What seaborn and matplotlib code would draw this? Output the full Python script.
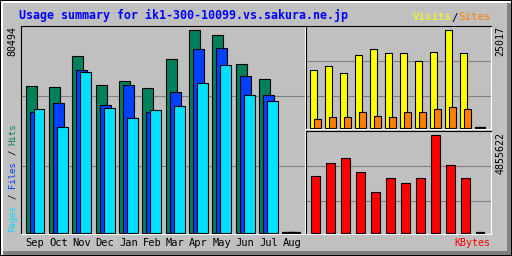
import numpy as np
import matplotlib
matplotlib.use('Agg')
import matplotlib.pyplot as plt
import seaborn as sns
from matplotlib.patches import Rectangle

# ---------------- data ----------------
months = ['Sep', 'Oct', 'Nov', 'Dec', 'Jan', 'Feb', 'Mar', 'Apr', 'May', 'Jun', 'Jul', 'Aug']
hits = [58288, 57891, 70183, 58684, 60270, 57494, 68993, 80494, 78115, 67010, 61063, 0]
files = [47977, 51546, 64632, 50753, 58684, 47977, 55908, 72957, 73354, 62252, 54719, 0]
pages = [49167, 42030, 63839, 49564, 45599, 48771, 50357, 59477, 66614, 54719, 52340, 0]
visits = [14551, 15572, 13785, 18380, 19912, 18891, 18891, 16849, 19146, 25017, 18891, 0]
sites = [2297, 2553, 2553, 4084, 3063, 2808, 4084, 4084, 4595, 5106, 4595, 0]
kbytes = [2824000, 3419000, 3667000, 3022000, 2031000, 2676000, 2477000, 2676000,
          4855622, 3320000, 2676000, 0]
title = 'Usage summary for ik1-300-10099.vs.sakura.ne.jp'

# ---------------- style ----------------
BG = '#C0C0C0'
DARK = '#808080'
C_HITS, C_FILES, C_PAGES = '#00805C', '#0040FF', '#00E0FF'
C_VISITS, C_SITES, C_KB = '#FFFF00', '#FF8000', '#FF0000'
MONO = 'DejaVu Sans Mono'

W, H = 512, 256
fig = plt.figure(figsize=(W / 100, H / 100), dpi=100, facecolor=BG)


def px_axes(x0, y0, x1, y1):
    return fig.add_axes([x0 / W, 1 - y1 / H, (x1 - x0) / W, (y1 - y0) / H])


# background / bevel layer in pixel coordinates
bg = px_axes(0, 0, W, H)
bg.set_xlim(0, W)
bg.set_ylim(H, 0)
bg.axis('off')
bg.set_zorder(0)
for (x, y, w, h, c) in [(0, 0, 512, 256, 'black'), (1, 1, 510, 254, 'white'),
                        (3, 3, 508, 252, DARK), (3, 3, 504, 248, BG)]:
    bg.add_patch(Rectangle((x, y), w, h, facecolor=c, edgecolor='none',
                           linewidth=0, antialiased=False))


def style_box(ax, ylo, yhi, grid_vals, xlo, xhi):
    ax.set_facecolor(BG)
    ax.set_zorder(1)
    ax.set_xlim(xlo, xhi)
    ax.set_ylim(ylo, yhi)
    ax.set_yticks(grid_vals)
    ax.set_yticklabels([])
    ax.tick_params(axis='y', length=0)
    ax.grid(axis='y', color=DARK, linewidth=0.8)
    ax.grid(axis='x', visible=False)
    ax.set_axisbelow(True)
    ax.set_xlabel('')
    ax.set_ylabel('')
    for side, col in [('left', 'black'), ('top', 'black'),
                      ('right', 'white'), ('bottom', 'white')]:
        ax.spines[side].set_color(col)
        ax.spines[side].set_linewidth(0.8)
        ax.spines[side].set_visible(True)
    # empty months are drawn as a heavier black baseline stroke
    for p in ax.patches:
        if p.get_height() == 0:
            p.set_linewidth(1.6)


def draw_bars(ax, vals, offset, width, color):
    xs = np.arange(len(vals)) + offset
    sns.barplot(x=xs, y=vals, native_scale=True, orient='x', width=width,
                color=color, saturation=1, edgecolor='black', linewidth=0.8,
                errorbar=None, ax=ax)


idx = np.arange(len(months))

# ---------------- main chart: hits / files / pages ----------------
ax1 = px_axes(20.5, 25.5, 304.5, 233.5)
sp1 = 23.36
draw_bars(ax1, hits, -4 / sp1, 11 / sp1, C_HITS)
draw_bars(ax1, files, 0, 11 / sp1, C_FILES)
draw_bars(ax1, pages, 4 / sp1, 11 / sp1, C_PAGES)
s1 = max(hits) / 203.0
style_box(ax1, -s1, s1 * 207, [s1 * 67, s1 * 137],
          (20.5 - 35) / sp1, (304.5 - 35) / sp1)
ax1.set_xticks(idx)
ax1.set_xticklabels(months, fontfamily=MONO, fontsize=7.5, color='black')
ax1.tick_params(axis='x', length=0, pad=3)

# ---------------- top right: visits / sites ----------------
ax2 = px_axes(305.5, 25.5, 490.5, 128.5)
sp2 = 15.0
draw_bars(ax2, visits, -2 / sp2, 7 / sp2, C_VISITS)
draw_bars(ax2, sites, 2 / sp2, 7 / sp2, C_SITES)
s2 = max(visits) / 98.0
style_box(ax2, -s2, s2 * 102, [s2 * 32, s2 * 67],
          (305.5 - 315) / sp2, (490.5 - 315) / sp2)
ax2.set_xticks([])

# ---------------- bottom right: kbytes ----------------
ax3 = px_axes(305.5, 130.5, 490.5, 233.5)
draw_bars(ax3, kbytes, 0, 9 / sp2, C_KB)
s3 = max(kbytes) / 98.0
style_box(ax3, -s3, s3 * 102, [s3 * 32, s3 * 67],
          (305.5 - 315) / sp2, (490.5 - 315) / sp2)
ax3.set_xticks([])

# ---------------- texts ----------------
bg.text(19, 19.5, title, fontfamily=MONO, fontweight='bold', fontsize=8.4,
        color='#0000FF', ha='left', va='baseline')

# Visits/Sites legend
fs_l = 7.8
adv = fs_l * 100 / 72 * 0.602
x0 = 490.5 - 12 * adv
for k, (s, c) in enumerate([('Visits', C_VISITS), ('/', 'black'), ('Sites', C_SITES)]):
    off = [0, 6, 7][k]
    bg.text(x0 + off * adv, 20.5, s, fontfamily=MONO, fontsize=fs_l, color=c,
            ha='left', va='baseline')

# left rotated legend
fs_r = 6.5
adv_r = fs_r * 100 / 72 * 0.602
segs = [('Pages', C_PAGES, 0), ('/', 'black', 6), ('Files', C_FILES, 8),
        ('/', 'black', 14), ('Hits', C_HITS, 16)]
for s, c, off in segs:
    bg.text(12.5, 231.5 - off * adv_r, s, fontfamily=MONO, fontsize=fs_r, color=c,
            rotation=90, rotation_mode='anchor', ha='left', va='center')

# max labels
bg.text(12.7, 26.5, str(max(hits)), fontfamily=MONO, fontsize=7.2, color='black',
        rotation=90, ha='center', va='top')
bg.text(500.5, 26.5, str(max(visits)), fontfamily=MONO, fontsize=7.2, color='black',
        rotation=90, ha='center', va='top')
bg.text(500.5, 131.5, str(max(kbytes)), fontfamily=MONO, fontsize=7.2, color='black',
        rotation=90, ha='center', va='top')

bg.text(490.5, 246.5, 'KBytes', fontfamily=MONO, fontsize=7.2, color=C_KB,
        ha='right', va='baseline')

fig.savefig('out.png', dpi=100, facecolor=BG)
